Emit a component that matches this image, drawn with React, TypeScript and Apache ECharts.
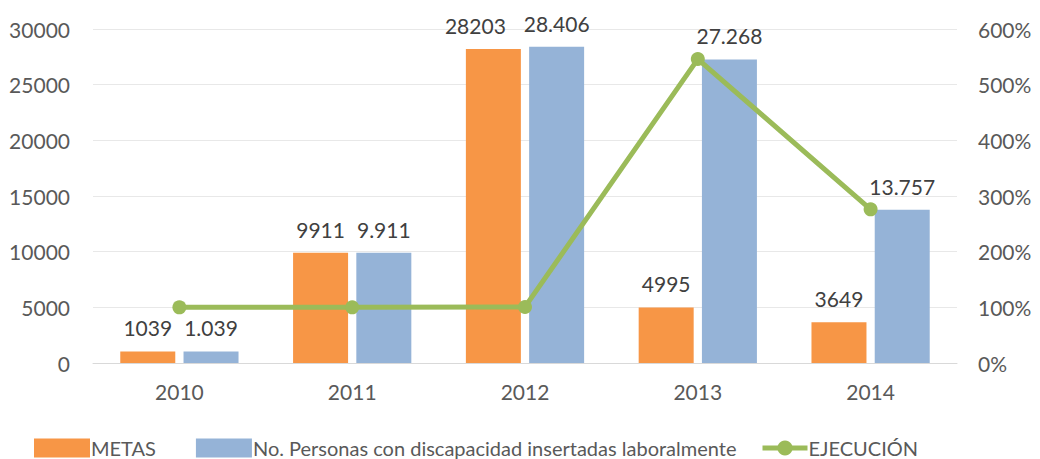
import React, { useEffect, useRef } from "react";
import * as echarts from "echarts";

const categories = ["2010", "2011", "2012", "2013", "2014"];
const metas = [1039, 9911, 28203, 4995, 3649];
const personas = [1039, 9911, 28406, 27268, 13757];
const personasLabels = ["1.039", "9.911", "28.406", "27.268", "13.757"];
const ejecucion = [100, 100, 100.7, 546, 276];
const leftTicks = { min: 0, max: 30000, interval: 5000 };
const rightTicks = { min: 0, max: 600, interval: 100 };

const FONT = "Lato, sans-serif";
const FS = 21;
// horizontal nudge of METAS labels to avoid overlap (style, not data)
const metasLabelShift = [0, 0, -18, 0, 0];

export default function App() {
  const ref = useRef<HTMLDivElement>(null);
  useEffect(() => {
    document.body.style.margin = "0";
    const chart = echarts.init(ref.current!, null, { renderer: "svg" });
    const labelStyle = {
      show: true,
      position: "top" as const,
      distance: 13,
      color: "#404040",
      fontSize: FS,
      fontFamily: FONT,
    };
    const legendText = { color: "#595959", fontSize: 20, fontFamily: FONT, padding: [0, 0, 0, -4], lineHeight: 22 };
    chart.setOption({
      animation: false,
      textStyle: { fontFamily: FONT },
      grid: { left: 93, right: 83, top: 29, bottom: 96, containLabel: false },
      legend: [
        {
          data: ["METAS", "No. Personas con discapacidad insertadas laboralmente"],
          left: 34,
          top: 437,
          itemWidth: 56,
          itemHeight: 19,
          itemGap: 40,
          icon: "rect",
          padding: 0,
          textStyle: legendText,
        },
        {
          data: ["EJECUCIÓN"],
          left: 760,
          top: 437,
          itemWidth: 45,
          itemHeight: 19,
          padding: 0,
          lineStyle: { width: 5 },
          textStyle: legendText,
        },
      ],
      xAxis: {
        type: "category",
        data: categories,
        axisLine: { lineStyle: { color: "#D9D9D9", width: 1 } },
        axisTick: { show: false },
        axisLabel: { color: "#595959", fontSize: FS, fontFamily: FONT, margin: 18 },
      },
      yAxis: [
        {
          type: "value",
          ...leftTicks,
          axisLine: { show: false },
          axisTick: { show: false },
          splitLine: { lineStyle: { color: "#E8E8E8", width: 1 } },
          axisLabel: {
            color: "#595959",
            fontSize: FS,
            fontFamily: FONT,
            margin: 23,
            formatter: (v: number) => String(v),
          },
        },
        {
          type: "value",
          ...rightTicks,
          axisLine: { show: false },
          axisTick: { show: false },
          splitLine: { show: false },
          axisLabel: {
            color: "#595959",
            fontSize: FS,
            fontFamily: FONT,
            margin: 21,
            formatter: "{value}%",
          },
        },
      ],
      series: [
        {
          name: "METAS",
          type: "bar",
          data: metas.map((v, i) => ({ value: v, label: { offset: [metasLabelShift[i], 0] } })),
          barWidth: 55,
          barGap: "15%",
          itemStyle: { color: "#F79646" },
          label: { ...labelStyle },
        },
        {
          name: "No. Personas con discapacidad insertadas laboralmente",
          type: "bar",
          data: personas,
          barWidth: 55,
          itemStyle: { color: "#95B3D7" },
          label: {
            ...labelStyle,
            formatter: (p: any) => personasLabels[p.dataIndex],
          },
        },
        {
          name: "EJECUCIÓN",
          type: "line",
          yAxisIndex: 1,
          data: ejecucion,
          symbol: "circle",
          symbolSize: 14,
          lineStyle: { color: "#9BBB59", width: 5 },
          itemStyle: { color: "#9BBB59" },
        },
      ],
    });
    return () => chart.dispose();
  }, []);
  return <div ref={ref} style={{ width: 1040, height: 459 }} />;
}
